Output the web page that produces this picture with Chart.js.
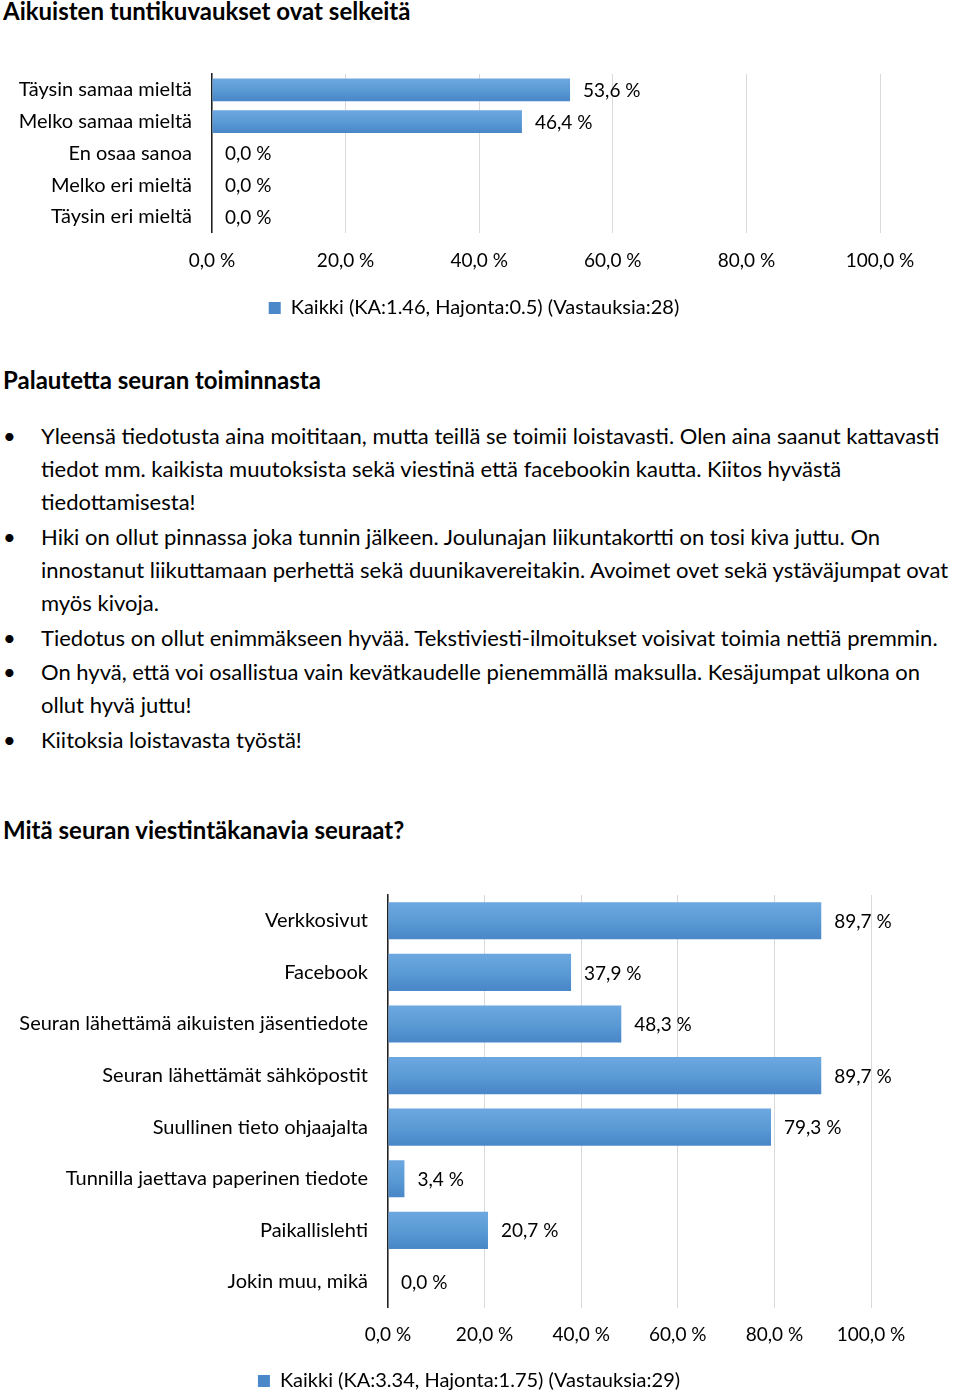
<!DOCTYPE html>
<html>
<head>
<meta charset="utf-8">
<script src="https://cdn.jsdelivr.net/npm/chart.js@4"></script>
<style>
  body { margin: 0; width: 960px; height: 1393px; background: #fff; font-family: Lato, sans-serif; color: #000; position: relative; overflow: hidden; }
  .h { position: absolute; left: 3px; font-weight: bold; font-size: 24px; line-height: 30px; white-space: nowrap; }
  .ln { position: absolute; left: 41px; font-size: 22px; line-height: 30px; white-space: nowrap; }
  .bu { position: absolute; left: 3px; font-size: 22px; line-height: 30px; }
  canvas { position: absolute; left: 0; }
</style>
</head>
<body>

<div class="h" style="top:-4px">Aikuisten tuntikuvaukset ovat selkeitä</div>
<canvas id="chart1" width="960" height="268" style="top:60px"></canvas>

<div class="h" style="top:365px">Palautetta seuran toiminnasta</div>
<div class="bu" style="top:421px">•</div>
<div class="ln" style="top:421px">Yleensä tiedotusta aina moititaan, mutta teillä se toimii loistavasti. Olen aina saanut kattavasti</div>
<div class="ln" style="top:454px">tiedot mm. kaikista muutoksista sekä viestinä että facebookin kautta. Kiitos hyvästä</div>
<div class="ln" style="top:487px">tiedottamisesta!</div>
<div class="bu" style="top:522px">•</div>
<div class="ln" style="top:522px">Hiki on ollut pinnassa joka tunnin jälkeen. Joulunajan liikuntakortti on tosi kiva juttu. On</div>
<div class="ln" style="top:555px">innostanut liikuttamaan perhettä sekä duunikavereitakin. Avoimet ovet sekä ystäväjumpat ovat</div>
<div class="ln" style="top:588px">myös kivoja.</div>
<div class="bu" style="top:623px">•</div>
<div class="ln" style="top:623px">Tiedotus on ollut enimmäkseen hyvää. Tekstiviesti-ilmoitukset voisivat toimia nettiä premmin.</div>
<div class="bu" style="top:657px">•</div>
<div class="ln" style="top:657px">On hyvä, että voi osallistua vain kevätkaudelle pienemmällä maksulla. Kesäjumpat ulkona on</div>
<div class="ln" style="top:690px">ollut hyvä juttu!</div>
<div class="bu" style="top:725px">•</div>
<div class="ln" style="top:725px">Kiitoksia loistavasta työstä!</div>

<div class="h" style="top:815px">Mitä seuran viestintäkanavia seuraat?</div>
<canvas id="chart2" width="960" height="521" style="top:880px"></canvas>

<script>
// chart 1 data
const agreeLabels = ["Täysin samaa mieltä", "Melko samaa mieltä", "En osaa sanoa", "Melko eri mieltä", "Täysin eri mieltä"];
const agreeValues = [53.6, 46.4, 0.0, 0.0, 0.0];
const agreeLegend = "Kaikki (KA:1.46, Hajonta:0.5) (Vastauksia:28)";

// chart 2 data
const channelLabels = ["Verkkosivut", "Facebook", "Seuran lähettämä aikuisten jäsentiedote", "Seuran lähettämät sähköpostit",
    "Suullinen tieto ohjaajalta", "Tunnilla jaettava paperinen tiedote", "Paikallislehti", "Jokin muu, mikä"];
const channelValues = [89.7, 37.9, 48.3, 89.7, 79.3, 3.4, 20.7, 0.0];
const channelLegend = "Kaikki (KA:3.34, Hajonta:1.75) (Vastauksia:29)";

const axisMin = 0;
const axisMax = 100;
const axisStep = 20;

// finnish style percent, 53.6 -> "53,6 %"
const fmt = (v) => v.toFixed(1).replace(".", ",") + " %";

const BLUE = "#5b9bd5";

// office like bar shading, lighter on top
const barFill = (c) => {
    if (c.type !== "data") return BLUE;
    const chart = c.chart;
    const y = chart.scales.y;
    if (!y || !chart.chartArea) return BLUE;
    const mid = y.getPixelForValue(c.dataIndex);
    const half = (y.height / chart.data.labels.length) * 0.64 / 2;
    const g = chart.ctx.createLinearGradient(0, mid - half, 0, mid + half);
    g.addColorStop(0, "#6ba6df");
    g.addColorStop(0.5, "#5b9bd5");
    g.addColorStop(1, "#4a88c9");
    return g;
};

// labels at the end of each bar
const valueLabels = {
    id: "valueLabels",
    afterDatasetsDraw(chart) {
        const ctx = chart.ctx;
        const values = chart.data.datasets[0].data;
        ctx.save();
        ctx.font = "19px Lato";
        ctx.fillStyle = "#000";
        ctx.textAlign = "left";
        ctx.textBaseline = "middle";
        chart.getDatasetMeta(0).data.forEach((bar, i) => {
            ctx.fillText(fmt(values[i]), bar.x + 13, bar.y + 1);
        });
        ctx.restore();
    }
};

// excel centres the legend on the whole chart box, not the plot area
const legendShift = {
    id: "legendShift",
    afterLayout(chart, args, opts) {
        if (!chart.legend) return;
        chart.legend.left += opts.dx;
        chart.legend.right += opts.dx;
    }
};

const makeChart = (id, labels, values, legendText, opt) => {
    return new Chart(document.getElementById(id), {
        type: "bar",
        data: {
            labels: labels,
            datasets: [{
                label: legendText,
                data: values,
                backgroundColor: barFill
            }]
        },
        options: {
            indexAxis: "y",
            responsive: false,
            animation: false,
            layout: { padding: { left: 0, right: opt.right, top: opt.top, bottom: 0 } },
            scales: {
                x: {
                    min: axisMin,
                    max: axisMax,
                    ticks: { stepSize: axisStep, callback: (v) => fmt(v), padding: opt.tickPad, color: "#000", font: { size: 19 }, maxRotation: 0, autoSkip: false },
                    grid: { color: "#d9d9d9", drawTicks: false },
                    border: { display: false },
                    afterFit: (s) => { s.paddingLeft = 0; s.paddingRight = 0; }
                },
                y: {
                    ticks: { padding: 20, color: "#000", font: { size: 20 } },
                    grid: { display: false, drawTicks: false },
                    border: { display: true, color: "#222", width: 1.5 },
                    afterFit: (s) => { s.width = opt.axisX; s.paddingTop = 0; s.paddingBottom = 0; }
                }
            },
            plugins: {
                legend: {
                    position: "bottom",
                    labels: { boxWidth: 12, boxHeight: 12, color: "#000", font: { size: 20 }, padding: 8.5 }
                },
                legendShift: { dx: opt.legendDx },
                tooltip: { enabled: false }
            }
        },
        plugins: [valueLabels, legendShift]
    });
};

const draw = () => {
    Chart.defaults.font.family = "Lato";
    makeChart("chart1", agreeLabels, agreeValues, agreeLegend, { right: 80, top: 14, axisX: 212, tickPad: 17, legendDx: 34 });
    makeChart("chart2", channelLabels, channelValues, channelLegend, { right: 89, top: 15, axisX: 388, tickPad: 16, legendDx: 33.5 });
};

document.fonts.load("20px Lato").then(draw, draw);
</script>
</body>
</html>
